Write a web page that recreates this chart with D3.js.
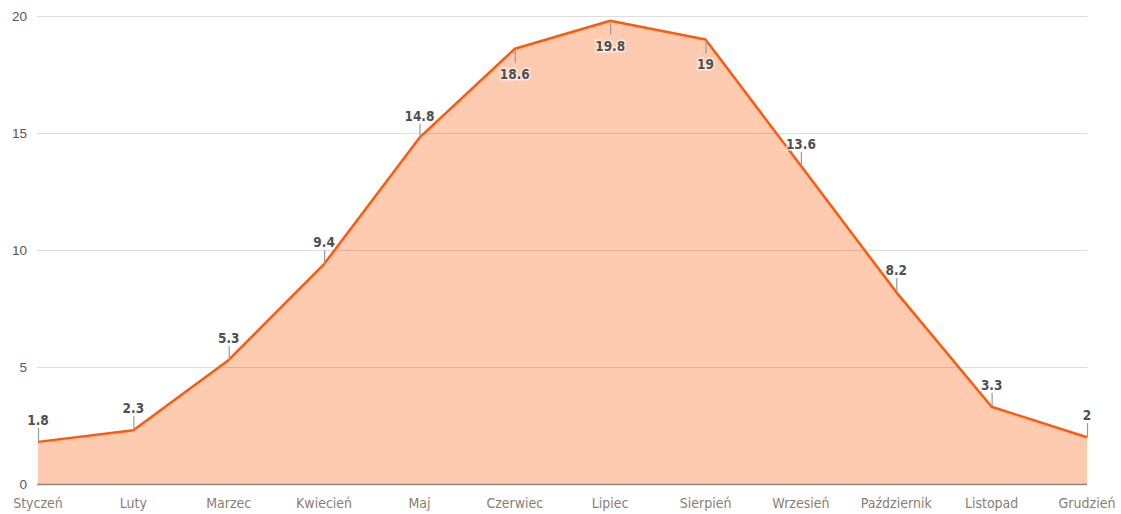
<!DOCTYPE html>
<html>
<head>
<meta charset="utf-8">
<script src="https://cdn.jsdelivr.net/npm/d3@7"></script>
<style>
  body { margin: 0; background: #fff; }
</style>
</head>
<body>
<script>
var months = ['Styczeń','Luty','Marzec','Kwiecień','Maj','Czerwiec','Lipiec','Sierpień','Wrzesień','Październik','Listopad','Grudzień'];
var temps = [1.8, 2.3, 5.3, 9.4, 14.8, 18.6, 19.8, 19, 13.6, 8.2, 3.3, 2];
// labels placed under the line for these months
var below = ['Czerwiec','Lipiec','Sierpień'];
var yTicks = [0, 5, 10, 15, 20];

var width = 1121, height = 514;

var svg = d3.select('body')
  .append('svg')
  .attr('width', width)
  .attr('height', height);

var x = d3.scalePoint()
  .domain(months)
  .range([38, 1087]);

var y = d3.scaleLinear()
  .domain([0, 20])
  .range([484, 16]);

// area
var area = d3.area()
  .x(function(d, i) { return x(months[i]); })
  .y0(y(0))
  .y1(function(d) { return y(d); });

svg.append('path')
  .datum(temps)
  .attr('d', area)
  .attr('fill', '#fecbb1');

// grid lines
svg.selectAll('line.grid')
  .data(yTicks.filter(function(d) { return d > 0; }))
  .enter().append('line')
  .attr('class', 'grid')
  .attr('x1', 37)
  .attr('x2', 1087)
  .attr('y1', function(d) { return y(d) + 0.5; })
  .attr('y2', function(d) { return y(d) + 0.5; })
  .attr('stroke', '#000')
  .attr('stroke-opacity', 0.13)
  .attr('stroke-width', 1);

// baseline
svg.append('line')
  .attr('x1', 37)
  .attr('x2', 1087)
  .attr('y1', y(0) + 0.5)
  .attr('y2', y(0) + 0.5)
  .attr('stroke', '#888')
  .attr('stroke-width', 1.5);

// y tick labels
svg.selectAll('text.ytick')
  .data(yTicks)
  .enter().append('text')
  .attr('class', 'ytick')
  .attr('x', 27)
  .attr('y', function(d) { return y(d) + 5; })
  .attr('text-anchor', 'end')
  .attr('font-family', 'Liberation Sans, Arial, sans-serif')
  .attr('font-size', 13.5)
  .attr('fill', '#555')
  .text(function(d) { return d; });

// line
var line = d3.line()
  .x(function(d, i) { return x(months[i]); })
  .y(function(d) { return y(d); });

svg.append('path')
  .datum(temps)
  .attr('d', line)
  .attr('fill', 'none')
  .attr('stroke', '#ff5a0a')
  .attr('stroke-width', 2.5)
  .attr('stroke-linejoin', 'round');

// leader lines
svg.selectAll('line.lead')
  .data(temps)
  .enter().append('line')
  .attr('class', 'lead')
  .attr('x1', function(d, i) { return x(months[i]) + 0.5; })
  .attr('x2', function(d, i) { return x(months[i]) + 0.5; })
  .attr('y1', function(d) { return y(d); })
  .attr('y2', function(d, i) { return below.indexOf(months[i]) >= 0 ? y(d) + 14 : y(d) - 14; })
  .attr('stroke', '#999')
  .attr('stroke-width', 1.2);

// value labels
svg.selectAll('text.val')
  .data(temps)
  .enter().append('text')
  .attr('class', 'val')
  .attr('x', function(d, i) { return x(months[i]); })
  .attr('y', function(d, i) { return below.indexOf(months[i]) >= 0 ? y(d) + 30 : y(d) - 17; })
  .attr('text-anchor', 'middle')
  .attr('font-family', 'DejaVu Sans Condensed, sans-serif')
  .attr('font-size', 13.5)
  .attr('font-weight', 'bold')
  .attr('fill', '#505050')
  .attr('stroke', '#fff')
  .attr('stroke-width', 3)
  .attr('stroke-opacity', 0.6)
  .attr('paint-order', 'stroke')
  .text(function(d) { return d; });

// month labels
svg.selectAll('text.month')
  .data(months)
  .enter().append('text')
  .attr('class', 'month')
  .attr('x', function(d) { return x(d); })
  .attr('y', 508)
  .attr('text-anchor', 'middle')
  .attr('font-family', 'DejaVu Sans Condensed, sans-serif')
  .attr('font-size', 14)
  .attr('fill', '#8a7e70')
  .text(function(d) { return d; });
</script>
</body>
</html>
